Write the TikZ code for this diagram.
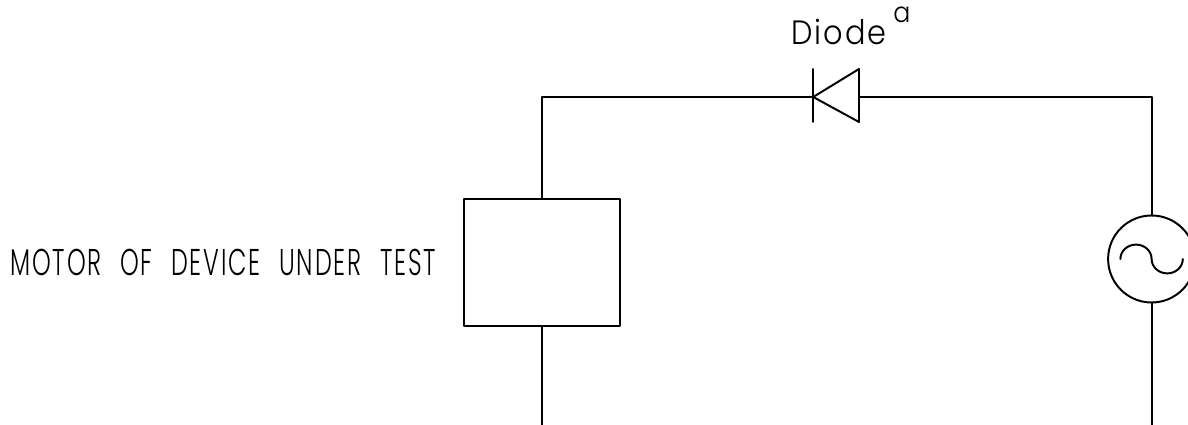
\documentclass[tikz,border=0pt]{standalone}
\usepackage{fontspec}
\newfontfamily\cadfont[UprightFont=* Light,FakeStretch=.64,LetterSpace=5,WordSpace=2.2]{Poppins}
\newfontfamily\diodefont[UprightFont=* Light,FakeStretch=.9,LetterSpace=6]{Poppins}
\tikzset{
	wire/.style={line width=1.4pt, line cap=round, line join=round},
	motorbox/.style={draw, wire, minimum width=3.9cm, minimum height=3.175cm, inner sep=0pt},
	source/.style={draw, wire, circle, minimum size=2.175cm, inner sep=0pt},
	cadtext/.style={inner sep=0pt, anchor=base west}
}
\begin{document}
\begin{tikzpicture}
	\useasboundingbox (0,0) rectangle (29.7,10.625);
	\node[motorbox] (motor) at (13.55,4.0625) {};
	\node[source] (ac) at (28.79,4.15) {};
	\coordinate (lefttop) at (13.55,8.2);
	\coordinate (righttop) at (28.79,8.2);
	\coordinate (leftend) at (13.55,0);
	\coordinate (rightend) at (28.79,0);
	\coordinate (cathode) at (20.33,8.2);
	\coordinate (anode) at (21.475,8.2);
	\coordinate (barup) at (20.33,8.9);
	\coordinate (bardown) at (20.33,7.575);
	\coordinate (baseup) at (21.475,8.9);
	\coordinate (basedown) at (21.475,7.575);
	\draw[wire] (motor.north)--(lefttop)--(cathode);
	\draw[wire] (anode)--(righttop)--(ac.north);
	\draw[wire] (motor.south)--(leftend);
	\draw[wire] (ac.south)--(rightend);
	% diode
	\draw[wire] (barup)--(bardown);
	\draw[wire] (cathode)--(baseup)--(basedown)--cycle;
	% sine inside the source
	\draw[wire] ([xshift=-.78cm]ac.center) arc[start angle=180,end angle=0,x radius=.39,y radius=.36]
		arc[start angle=180,end angle=360,x radius=.39,y radius=.36];
	\node[cadtext, font=\fontsize{26.5}{26.5}\selectfont\cadfont] (motorlabel) at (.25,3.74) {MOTOR OF DEVICE UNDER TEST};
	\node[cadtext, font=\fontsize{24}{24}\selectfont\diodefont] (diodelabel) at (19.78,9.5) {Diode};
	\node[cadtext, font=\fontsize{20}{20}\selectfont\diodefont] (supa) at (22.33,10.05) {a};
\end{tikzpicture}
\end{document}
